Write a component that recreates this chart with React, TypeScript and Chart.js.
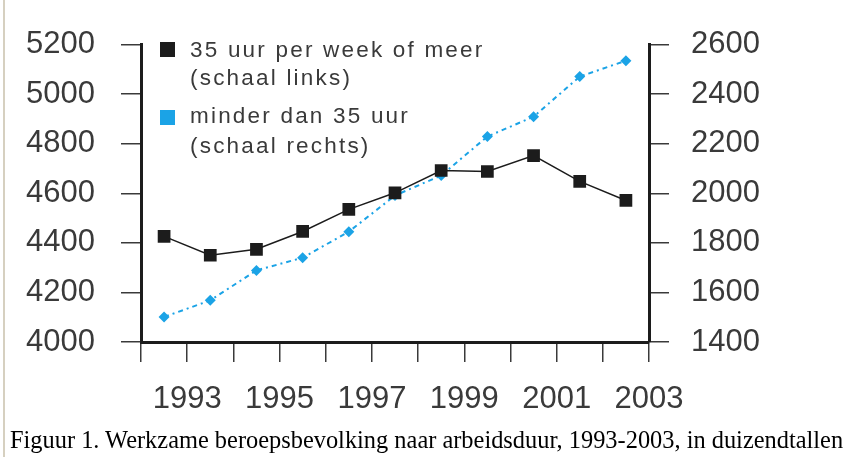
import React, { useEffect, useRef } from "react";
import { Chart, registerables } from "chart.js";

Chart.register(...registerables);

const years = [1993, 1994, 1995, 1996, 1997, 1998, 1999, 2000, 2001, 2002, 2003];
const fullTime = [4426, 4350, 4374, 4446, 4535, 4602, 4692, 4688, 4752, 4648, 4571];
const partTime = [1501, 1568, 1689, 1740, 1845, 1991, 2072, 2229, 2309, 2471, 2535];
const xTickYears = [1993, 1995, 1997, 1999, 2001, 2003];
const leftRange = [4000, 5200];
const rightRange = [1400, 2600];
const legendLines = [
  ["35 uur per week of meer", "(schaal links)"],
  ["minder dan 35 uur", "(schaal rechts)"],
];
const caption = "Figuur 1. Werkzame beroepsbevolking naar arbeidsduur, 1993-2003, in duizendtallen";

const BLACK = "#1c1c1c";
const BLUE = "#1ba3e6";
const TEXT = "#3a3a3a";
const FONT = "Liberation Sans";

const legendPlugin = {
  id: "customLegend",
  afterDraw(chart: any) {
    const ctx = chart.ctx;
    ctx.save();
    const colors = [BLACK, BLUE];
    const squareY = [42, 110];
    const baselines = [[57, 85], [123, 153]];
    ctx.font = `22.5px "${FONT}"`;
    (ctx as any).letterSpacing = "2.2px";
    ctx.textBaseline = "alphabetic";
    ctx.textAlign = "left";
    legendLines.forEach((lines, i) => {
      ctx.fillStyle = colors[i];
      ctx.fillRect(160, squareY[i], 15, 15);
      ctx.fillStyle = TEXT;
      lines.forEach((t, j) => ctx.fillText(t, 190, baselines[i][j]));
    });
    ctx.restore();
  },
};

const plain = (v: any) => String(v);

export default function App() {
  const ref = useRef<HTMLCanvasElement>(null);
  useEffect(() => {
    document.body.style.margin = "0";
    const first = years[0];
    const chart = new Chart(ref.current as HTMLCanvasElement, {
      type: "line",
      data: {
        datasets: [
          {
            label: legendLines[0].join(" "),
            data: years.map((y, i) => ({ x: y - first + 0.5, y: fullTime[i] })),
            yAxisID: "y",
            borderColor: BLACK,
            backgroundColor: BLACK,
            borderWidth: 1.5,
            pointStyle: "rect",
            pointRadius: 9,
            pointBorderWidth: 0,
            tension: 0,
          },
          {
            label: legendLines[1].join(" "),
            data: years.map((y, i) => ({ x: y - first + 0.5, y: partTime[i] })),
            yAxisID: "y2",
            borderColor: BLUE,
            backgroundColor: BLUE,
            borderWidth: 2,
            borderDash: [5, 4, 2, 4],
            pointStyle: "rectRot",
            pointRadius: 5.5,
            pointBorderWidth: 0,
            tension: 0,
          },
        ],
      },
      options: {
        animation: false,
        responsive: false,
        events: [],
        layout: { padding: { top: 44, left: 0, right: 0, bottom: 0 } },
        plugins: { legend: { display: false }, tooltip: { enabled: false } },
        scales: {
          x: {
            type: "linear",
            min: 0,
            max: years.length,
            afterFit: (s: any) => { s.height = 115; },
            ticks: {
              stepSize: 1,
              autoSkip: false,
              maxRotation: 0,
              padding: 19,
              color: TEXT,
              font: { family: FONT, size: 31 },
              callback: (v: any) => {
                const yr = first - 1 + Number(v);
                return xTickYears.includes(yr) ? String(yr) : "";
              },
            },
            grid: { drawOnChartArea: false, tickLength: 20, color: TEXT, lineWidth: 1.5 },
            border: { display: true, width: 3, color: BLACK },
          },
          y: {
            position: "left",
            min: leftRange[0],
            max: leftRange[1],
            afterFit: (s: any) => { s.width = 141; },
            ticks: { stepSize: 200, padding: 26, color: TEXT, font: { family: FONT, size: 31 }, callback: plain },
            grid: { drawOnChartArea: false, tickLength: 20, color: TEXT, lineWidth: 1.5 },
            border: { display: true, width: 3, color: BLACK },
          },
          y2: {
            position: "right",
            min: rightRange[0],
            max: rightRange[1],
            afterFit: (s: any) => { s.width = 198; },
            ticks: { stepSize: 200, padding: 22, color: TEXT, font: { family: FONT, size: 31 }, callback: plain },
            grid: { drawOnChartArea: false, tickLength: 20, color: TEXT, lineWidth: 1.5 },
            border: { display: true, width: 3, color: BLACK },
          },
        },
      },
      plugins: [legendPlugin],
    } as any);
    return () => chart.destroy();
  }, []);

  return (
    <div style={{ position: "absolute", left: 0, top: 0, width: 847, height: 457, background: "#fff", overflow: "hidden" }}>
      <div style={{ position: "absolute", left: 3, top: 0, width: 2, height: 457, background: "#d6d0c0" }} />
      <canvas ref={ref} width={847} height={457} style={{ position: "absolute", left: 0, top: 0 }} />
      <div
        style={{
          position: "absolute",
          left: 10,
          top: 426,
          fontFamily: '"Liberation Serif", serif',
          fontSize: 24.4,
          color: "#000",
          whiteSpace: "nowrap",
          lineHeight: "28px",
        }}
      >
        {caption}
      </div>
    </div>
  );
}
